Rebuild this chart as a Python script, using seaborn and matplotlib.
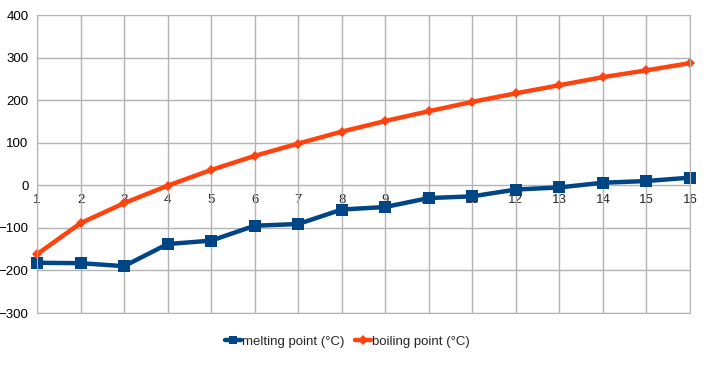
import pandas as pd
import matplotlib
matplotlib.use('Agg')
import matplotlib.pyplot as plt
import seaborn as sns

carbons = list(range(1, 17))
melting = [-182, -183, -190, -138, -130, -95, -91, -57, -51, -30, -26, -10, -5, 6, 10, 18]
boiling = [-162, -89, -42, -1, 36, 69, 98, 126, 151, 174, 196, 216, 235, 254, 270, 287]

data = pd.DataFrame({
    'n': carbons * 2,
    'value': melting + boiling,
    'series': ['melting point (°C)'] * 16 + ['boiling point (°C)'] * 16,
})

sns.set_style('white')
plt.rcParams['font.family'] = ['Liberation Sans', 'DejaVu Sans']
plt.rcParams['font.size'] = 9.5

fig = plt.figure(figsize=(7.13, 3.74), dpi=100)
ax = fig.add_axes([37 / 713, 1 - 313 / 374, 653 / 713, 298 / 374])

sns.lineplot(data=data, x='n', y='value', hue='series', style='series',
             palette=['#004586', '#ff420e'], markers=['s', 'D'], dashes=False,
             markersize=8, linewidth=3.2, markeredgewidth=0, ax=ax)
# smaller diamonds for the boiling series, and keep edge markers whole
for line in ax.lines:
    line.set_clip_on(False)
    if line.get_marker() == 'D':
        line.set_markersize(5.5)

ax.set_xlim(1, 16)
ax.set_ylim(-300, 400)
ax.set_yticks(range(-300, 401, 100))
ax.set_xticks(carbons)
ax.grid(True, color='#b3b3b3', linewidth=1)
ax.set_axisbelow(True)
for s in ax.spines.values():
    s.set_color('#b3b3b3')
ax.tick_params(axis='both', colors='#b3b3b3', length=4, width=1, labelcolor='black', pad=2)
ax.tick_params(axis='x', labelbottom=False)
ax.set_xlabel('')
ax.set_ylabel('')

# category labels sit on the zero line
sec = ax.secondary_xaxis(300 / 700)
sec.set_xticks(carbons, [str(c) for c in carbons])
sec.tick_params(length=0, pad=6)
sec.spines['bottom'].set_visible(False)

leg = ax.legend(loc='upper center', bbox_to_anchor=(0.475, -0.035), ncol=2, frameon=False,
                handlelength=1.2, handletextpad=0.1, columnspacing=0.8)
for h in leg.legend_handles:
    if h.get_marker() == 's':
        h.set_markersize(6)

fig.savefig('out.png', dpi=100)
